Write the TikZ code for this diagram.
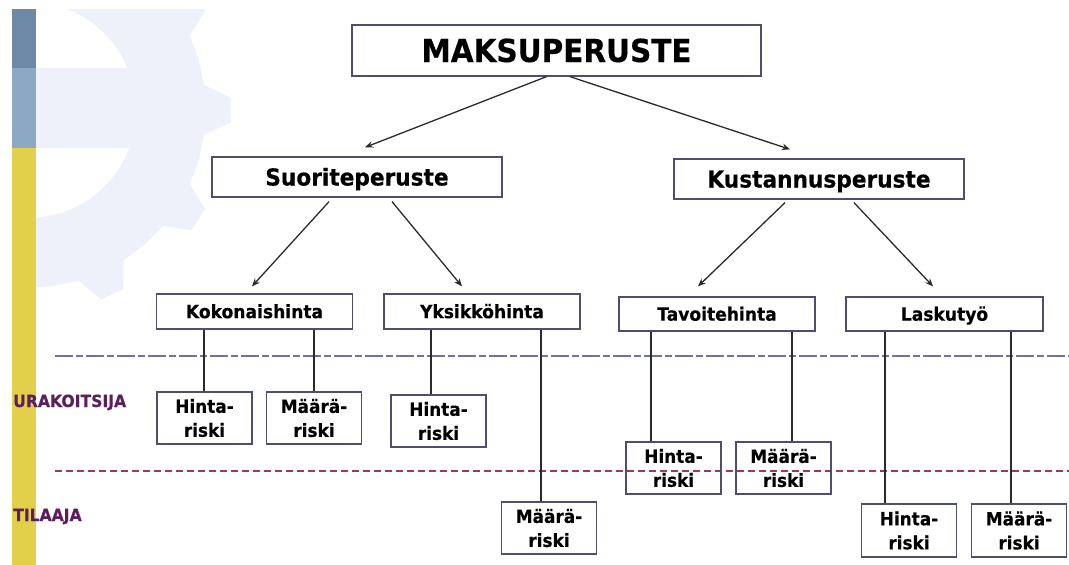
\documentclass[tikz,border=0pt]{standalone}
\usepackage{fontspec}
\setmainfont{DejaVu Sans}[FakeStretch=0.93, BoldFeatures={FakeBold=0.4}]
\usetikzlibrary{arrows.meta,calc}
\definecolor{boxline}{HTML}{4E4E70}
\definecolor{gearfill}{HTML}{EEF1F9}
\definecolor{bartop}{HTML}{6E88A8}
\definecolor{barmid}{HTML}{8DA8C2}
\definecolor{baryel}{HTML}{E2D04A}
\definecolor{labcol}{HTML}{5C1F5C}
\definecolor{lineA}{HTML}{7070A8}
\definecolor{lineB}{HTML}{A83358}
\definecolor{conn}{HTML}{2A2A2A}
\tikzset{
  mainbox/.style={draw=boxline, line width=1.3pt, fill=white, inner sep=0pt, text depth=0pt},
  topbox/.style={mainbox, minimum width=409pt, minimum height=51pt, text height=23pt, font=\bfseries\fontsize{31.7}{36}\selectfont},
  midbox/.style={mainbox, minimum width=290pt, minimum height=40pt, text height=17pt, font=\bfseries\fontsize{23.3}{28}\selectfont},
  lowbox/.style={mainbox, minimum width=196pt, minimum height=35pt, text height=13.4pt, font=\bfseries\fontsize{18.4}{22}\selectfont},
  riskbox/.style={draw=boxline, line width=1.3pt, inner sep=0pt, align=center, minimum width=95pt, minimum height=52pt, font=\bfseries\fontsize{18.2}{24}\selectfont},
  lab/.style={text=labcol, inner sep=0pt, font=\bfseries\fontsize{16.8}{20}\selectfont},
  arr/.style={draw=conn, line width=1.3pt, -{Stealth[length=8pt,width=6.5pt]}},
  vline/.style={draw=conn, line width=1.3pt},
}
\begin{document}
\begin{tikzpicture}[x=1pt,y=-1pt]
\useasboundingbox (0,0) rectangle (1069,565);
% background gear
\begin{scope}
  \clip (12,9) rectangle (1069,565);
  \begin{scope}[shift={(28,110)}]
    \fill[gearfill] (-8:178)
      \foreach \k [evaluate=\k as \a using \k*32.727] in {0,...,10} {
        -- (\a-8:178) -- (\a-3.5:203) -- (\a+3.5:203) -- (\a+8:178) -- (\a+16.36:178)
      } -- cycle;
    \fill[white] (0,0) circle[radius=108];
  \end{scope}
  \fill[gearfill] (12,68) rectangle (180,148);
\end{scope}
% left bar
\fill[bartop] (12,9) rectangle (36,68);
\fill[barmid] (12,68) rectangle (36,148);
\fill[baryel] (12,148) rectangle (36,565);
% separator lines
\coordinate (la1) at (55,356);
\coordinate (la2) at (1069,356);
\coordinate (lb1) at (55,471);
\coordinate (lb2) at (1069,471);
\draw[lineA, line width=1.3pt, dash pattern=on 18pt off 3pt on 7pt off 3pt] (la1) -- (la2);
\draw[lineB, line width=1.3pt, dash pattern=on 7pt off 4pt] (lb1) -- (lb2);
% labels
\node[lab, anchor=base west] (urak) at (13,407) {URAKOITSIJA};
\node[lab, anchor=base west] (tila) at (13,521) {TILAAJA};
% nodes
\node[topbox] (maks) at (556.5,50.5) {MAKSUPERUSTE};
\node[midbox] (suor) at (357,177) {Suoriteperuste};
\node[midbox] (kust) at (819,179) {Kustannusperuste};
\node[lowbox] (koko) at (254.5,311.5) {Kokonaishinta};
\node[lowbox] (yksi) at (482,311.5) {Yksikköhinta};
\node[lowbox, minimum height=34pt] (tavo) at (717,314) {Tavoitehinta};
\node[lowbox, minimum height=34pt, minimum width=197pt] (lask) at (944.5,314) {Laskutyö};
\node[riskbox] (r1) at (204.5,418) {Hinta-\\riski};
\node[riskbox] (r2) at (314,418) {Määrä-\\riski};
\node[riskbox] (r3) at (438.5,421) {Hinta-\\riski};
\node[riskbox] (r4) at (549,528) {Määrä-\\riski};
\node[riskbox] (r5) at (673.5,468) {Hinta-\\riski};
\node[riskbox] (r6) at (783.5,468) {Määrä-\\riski};
\node[riskbox, minimum height=53pt] (r7) at (909,530.5) {Hinta-\\riski};
\node[riskbox, minimum height=53pt] (r8) at (1019,530.5) {Määrä-\\riski};
% arrows
\draw[arr] ([xshift=-10pt]maks.south) -- ([xshift=8pt,yshift=9pt]suor.north);
\draw[arr] ([xshift=13.5pt]maks.south) -- ([xshift=-29pt,yshift=9pt]kust.north);
\draw[arr] ([xshift=-28pt,yshift=-4pt]suor.south) -- ([xshift=-2.5pt,yshift=7pt]koko.north);
\draw[arr] ([xshift=35pt,yshift=-4pt]suor.south) -- ([xshift=-20pt,yshift=7pt]yksi.north);
\draw[arr] ([xshift=-34pt,yshift=-3pt]kust.south) -- ([xshift=-19pt,yshift=10pt]tavo.north);
\draw[arr] ([xshift=35pt,yshift=-3pt]kust.south) -- ([xshift=-11.5pt,yshift=10pt]lask.north);
% vertical connectors
\draw[vline] ($(r1.north)+(-0.5,0)$) -- ($(r1.north |- koko.south)+(-0.5,0)$);
\draw[vline] (r2.north) -- (r2.north |- koko.south);
\draw[vline] ($(r3.north)+(-7.5,0)$) -- ($(r3.north |- yksi.south)+(-7.5,0)$);
\draw[vline] ($(r4.north)+(-8,0)$) -- ($(r4.north |- yksi.south)+(-8,0)$);
\draw[vline] ($(r5.north)+(-22.5,0)$) -- ($(r5.north |- tavo.south)+(-22.5,0)$);
\draw[vline] ($(r6.north)+(8.5,0)$) -- ($(r6.north |- tavo.south)+(8.5,0)$);
\draw[vline] ($(r7.north)+(-24,0)$) -- ($(r7.north |- lask.south)+(-24,0)$);
\draw[vline] ($(r8.north)+(-8,0)$) -- ($(r8.north |- lask.south)+(-8,0)$);
\end{tikzpicture}
\end{document}
